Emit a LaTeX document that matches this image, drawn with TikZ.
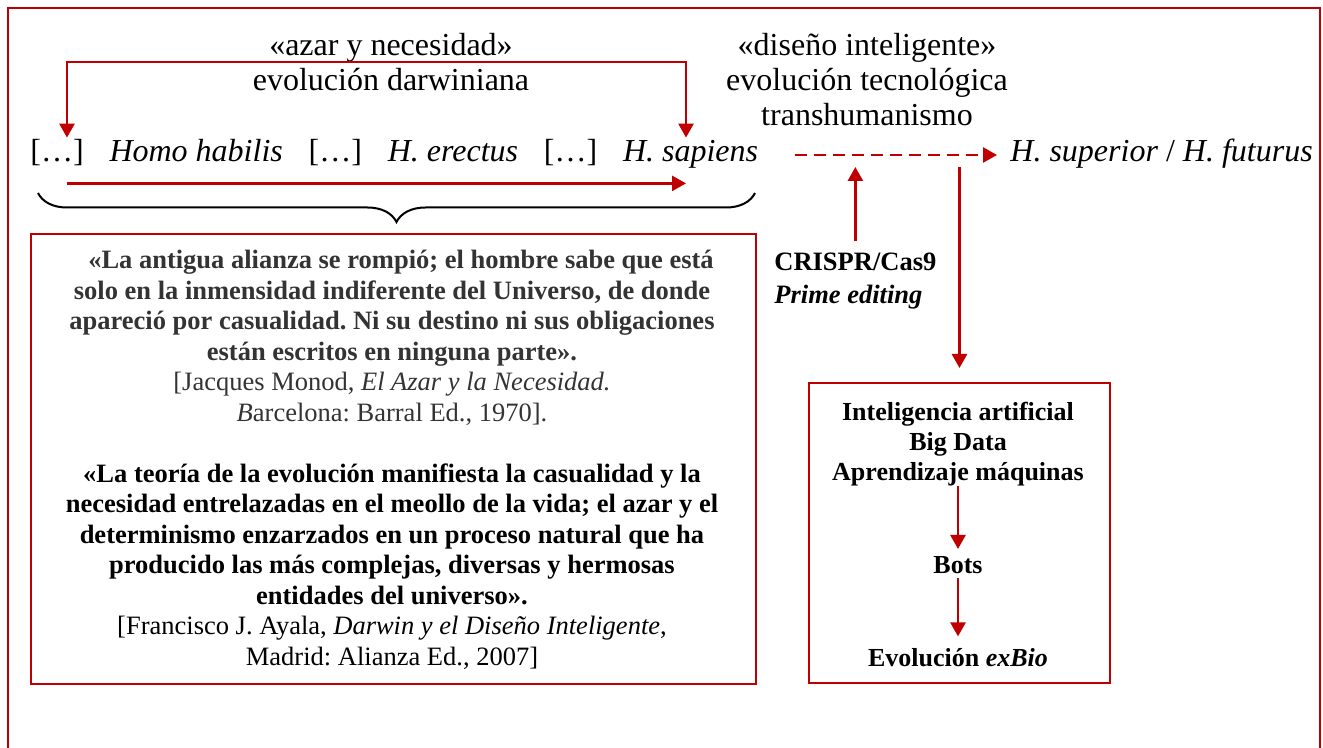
\documentclass[tikz,border=0pt]{standalone}
\usepackage{fontspec}
\setmainfont{Liberation Serif}
\usetikzlibrary{positioning,arrows.meta,decorations.pathreplacing}
\definecolor{rojo}{RGB}{192,0,0}
\frenchspacing

\begin{document}
\begin{tikzpicture}[x=0.5pt,y=-0.5pt,
    >={Triangle[width=7.5pt,length=7pt]},
    flecha/.style={draw=rojo,line width=1.3pt,->},
    caja/.style={draw=rojo,line width=1pt,inner sep=0pt},
    grande/.style={font=\fontsize{16}{17.5}\selectfont,inner sep=0pt},
    fila/.style={grande,text height=12pt,text depth=4pt},
    cita/.style={align=center,inner sep=0pt,font=\fontsize{13.25}{15.25}\selectfont},
    bloque/.style={align=center,inner sep=0pt,font=\fontsize{13}{15}\selectfont\bfseries}]
  \useasboundingbox (0,0) rectangle (1323,748);
  \clip (0,0) rectangle (1323,748);
  \draw[rojo,line width=1pt] (8,8) rectangle (1320,770);

  \node[grande,align=center] (azar) at (391,62) {«azar y necesidad»\\evolución darwiniana};
  \node[grande,align=center] (diseno) at (867,80) {«diseño inteligente»\\evolución tecnológica\\transhumanismo};

  \node[fila,anchor=base west] (b1) at (30,162) {[…]};
  \node[fila,right=12.5pt of b1] (habilis) {\textit{Homo habilis}};
  \node[fila,right=12.5pt of habilis] (b2) {[…]};
  \node[fila,right=12.5pt of b2] (erectus) {\textit{H. erectus}};
  \node[fila,right=12.5pt of erectus] (b3) {[…]};
  \node[fila,right=12.5pt of b3] (sapiens) {\textit{H. sapiens}};
  \node[fila,anchor=base west] (futurus) at (1010,162) {\textit{H. superior} / \textit{H. futurus}};

  \coordinate (izq) at (67,62);
  \coordinate (der) at (686,62);
  \coordinate (abajo) at ([yshift=-6.5pt]b1.south);
  \coordinate (linea) at (0,167);
  \draw[flecha,<->] (izq |- b1.north) -- (izq) -- (der) -- (der |- sapiens.north);
  \draw[flecha] (izq |- abajo) -- (der |- abajo);
  \draw[flecha,dash pattern=on 6pt off 3.5pt] ([xshift=18pt,yshift=-0.5pt]sapiens.east) -- ([xshift=-6.5pt,yshift=-0.5pt]futurus.west);

  \draw[line width=1pt,decorate,decoration={brace,mirror,amplitude=14.5pt}] (38,193) -- (755,193);

  \node[caja,minimum width=362.5pt,minimum height=225pt,anchor=north west] (citas) at (30,233) {};
  \node[cita,anchor=north,text=black!80] (monod) at (392,250) {%
    \textbf{\hspace*{9pt}«La antigua alianza se rompió; el hombre sabe que está}\\
    \textbf{solo en la inmensidad indiferente del Universo, de donde}\\
    \textbf{apareció por casualidad. Ni su destino ni sus obligaciones}\\
    \textbf{están escritos en ninguna parte».}\\
    {[}Jacques Monod, \textit{El Azar y la Necesidad.}\\
    \textit{B}arcelona: Barral Ed., 1970].};
  \node[cita,anchor=north] (ayala) at (392,463) {%
    \textbf{«La teoría de la evolución manifiesta la casualidad y la}\\
    \textbf{necesidad entrelazadas en el meollo de la vida; el azar y el}\\
    \textbf{determinismo enzarzados en un proceso natural que ha}\\
    \textbf{producido las más complejas, diversas y hermosas}\\
    \textbf{entidades del universo».}\\
    {[}Francisco J. Ayala, \textit{Darwin y el Diseño Inteligente},\\
    Madrid: Alianza Ed., 2007]};

  \node[anchor=north west,align=left,inner sep=0pt,font=\fontsize{13.25}{16.5}\selectfont\bfseries] (crispr) at (774,253) {CRISPR/Cas9\\\textit{Prime editing}};
  \draw[flecha,shorten <=6pt] (crispr.north) -- (crispr.north |- linea);

  \node[caja,minimum width=150.5pt,minimum height=150pt,anchor=north west] (tecno) at (808,382) {};
  \draw[flecha,shorten >=7pt] (tecno.north |- linea) -- (tecno.north);
  \node[bloque] (ia) at (958,444) {Inteligencia artificial\\Big Data\\Aprendizaje máquinas};
  \node[bloque] (bots) at (958,565) {Bots};
  \node[bloque] (exbio) at (958,658) {Evolución \textit{exBio}};
  \draw[flecha,shorten >=3.5pt] (ia.south) -- (bots.north);
  \draw[flecha,shorten <=2pt,shorten >=6pt] (bots.south) -- (exbio.north);
\end{tikzpicture}
\end{document}
